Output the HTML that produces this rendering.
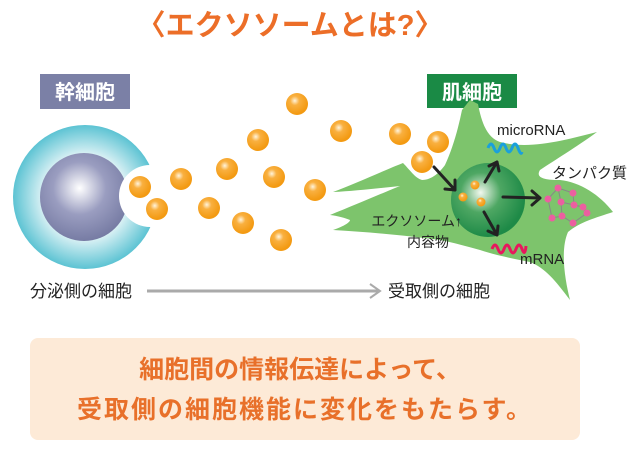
<!DOCTYPE html>
<html><head><meta charset="utf-8"><style>
body{margin:0;background:#fff;}
svg text{font-family:"Liberation Sans","Noto Sans CJK JP",sans-serif;}
</style></head><body>
<svg width="640" height="449" viewBox="0 0 640 449" xmlns="http://www.w3.org/2000/svg">
<defs>
<radialGradient id="cy" cx="0.5" cy="0.5" r="0.5"><stop offset="0.55" stop-color="#e8f6f8"/><stop offset="1" stop-color="#5cc3d3"/></radialGradient>
<radialGradient id="pu" cx="0.45" cy="0.4" r="0.6"><stop offset="0" stop-color="#ffffff"/><stop offset="0.5" stop-color="#9a9dc0"/><stop offset="1" stop-color="#777ca4"/></radialGradient>
<radialGradient id="or" cx="0.4" cy="0.35" r="0.6"><stop offset="0" stop-color="#fff4dc"/><stop offset="0.35" stop-color="#f9b040"/><stop offset="1" stop-color="#f39a12"/></radialGradient>
<radialGradient id="gn" cx="0.4" cy="0.4" r="0.6"><stop offset="0" stop-color="#f2f8ee"/><stop offset="0.45" stop-color="#4ea763"/><stop offset="1" stop-color="#1e8a47"/></radialGradient>
</defs>
<text x="290" y="35" font-size="29" font-weight="bold" fill="#ec6e28" text-anchor="middle">〈エクソソームとは?〉</text>

<rect x="40" y="74" width="90" height="35" fill="#7b80a6"/>
<text x="85" y="99" font-size="20" font-weight="bold" fill="#fff" text-anchor="middle">幹細胞</text>
<rect x="427" y="74" width="90" height="34" fill="#1a8a45"/>
<text x="472" y="99" font-size="20" font-weight="bold" fill="#fff" text-anchor="middle">肌細胞</text>

<circle cx="85" cy="197" r="72" fill="url(#cy)"/>
<circle cx="84" cy="197" r="44" fill="url(#pu)"/>
<circle cx="150" cy="196" r="31" fill="#fff"/>

<path fill="#7dc46c" d="M333,192 C355,184 385,170 403,163 C410,170 415,178 422,180 C432,180 440,172 445,165 C452,150 458,130 462,110 L470,100 L478,104 C482,125 488,138 500,142 C530,150 565,140 597,132 C575,148 555,160 540,170 C535,178 545,180 560,180 C580,182 600,195 613,212 C595,218 580,222 568,232 C560,250 565,280 570,300 C555,280 545,268 530,262 C510,258 495,255 480,250 C465,246 455,243 440,240 C410,236 370,232 333,230 C345,226 350,222 350,220 C345,218 338,216 330,215 C355,205 385,192 400,186 C380,188 355,191 333,192 Z"/>

<g fill="url(#or)">
<circle cx="140" cy="187" r="11"/><circle cx="157" cy="209" r="11"/><circle cx="181" cy="179" r="11"/>
<circle cx="209" cy="208" r="11"/><circle cx="227" cy="169" r="11"/><circle cx="243" cy="223" r="11"/>
<circle cx="258" cy="140" r="11"/><circle cx="274" cy="177" r="11"/><circle cx="281" cy="240" r="11"/>
<circle cx="315" cy="190" r="11"/><circle cx="297" cy="104" r="11"/><circle cx="341" cy="131" r="11"/>
<circle cx="400" cy="134" r="11"/><circle cx="438" cy="142" r="11"/><circle cx="422" cy="162" r="11"/>
</g>

<circle cx="488" cy="200" r="37" fill="url(#gn)"/>
<g fill="url(#or)"><circle cx="475" cy="185" r="4.5"/><circle cx="463" cy="197" r="4.5"/><circle cx="481" cy="202" r="4.5"/></g>

<g stroke="#222" stroke-width="3" fill="none" stroke-linecap="round" stroke-linejoin="round">
<path d="M434,167 L455,190 M445,189 L455,190 L455,180"/>
<path d="M485,182 L497,162 M489,166 L497,162 L499,171"/>
<path d="M503,197 L540,198 M532,191 L540,198 L532,205"/>
<path d="M484,212 L497,235 M488,231 L497,235 L498,226"/>
</g>

<path d="M488,148 q3,-8 6,0 t6,0 t6,0 t6,0 t6,0 t4,4" stroke="#1aa0dc" stroke-width="3" fill="none"/>
<path d="M492,249 q3,-8 6,0 t6,0 t6,0 t6,0 t6,0 t4,-3" stroke="#e8175d" stroke-width="3" fill="none"/>

<g stroke="#888" stroke-width="1" fill="none">
<path d="M558,188 L548,199 L552,218 L562,216 L561,202 L558,188 L573,193 L574,205 L583,207 L587,213 L573,223 L562,216 M561,202 L574,205"/>
</g>
<g fill="#ec5fa0">
<circle cx="558" cy="188" r="3.5"/><circle cx="573" cy="193" r="3.5"/><circle cx="548" cy="199" r="3.5"/>
<circle cx="561" cy="202" r="3.5"/><circle cx="574" cy="205" r="3.5"/><circle cx="583" cy="207" r="3.5"/>
<circle cx="552" cy="218" r="3.5"/><circle cx="562" cy="216" r="3.5"/><circle cx="587" cy="213" r="3.5"/>
<circle cx="573" cy="223" r="3.5"/>
</g>

<g font-size="15" fill="#222">
<text x="497" y="135">microRNA</text>
<text x="552" y="178">タンパク質</text>
<text x="520" y="264">mRNA</text>
<text x="462" y="226" text-anchor="end" font-size="14">エクソソーム↑</text>
<text x="428" y="247" text-anchor="middle" font-size="14">内容物</text>
</g>

<text x="30" y="297" font-size="17" fill="#222">分泌側の細胞</text>
<line x1="147" y1="291" x2="378" y2="291" stroke="#aaa" stroke-width="3"/>
<path d="M370,284 L380,291 L370,298" stroke="#aaa" stroke-width="2" fill="none"/>
<text x="388" y="297" font-size="17" fill="#222">受取側の細胞</text>

<rect x="30" y="338" width="550" height="102" rx="8" fill="#fdead7"/>
<text x="300" y="378" font-size="25" font-weight="bold" fill="#e8702a" text-anchor="middle">細胞間の情報伝達によって、</text>
<text x="305" y="418" font-size="25" font-weight="bold" fill="#e8702a" text-anchor="middle" letter-spacing="2">受取側の細胞機能に変化をもたらす。</text>
</svg>
</body></html>
